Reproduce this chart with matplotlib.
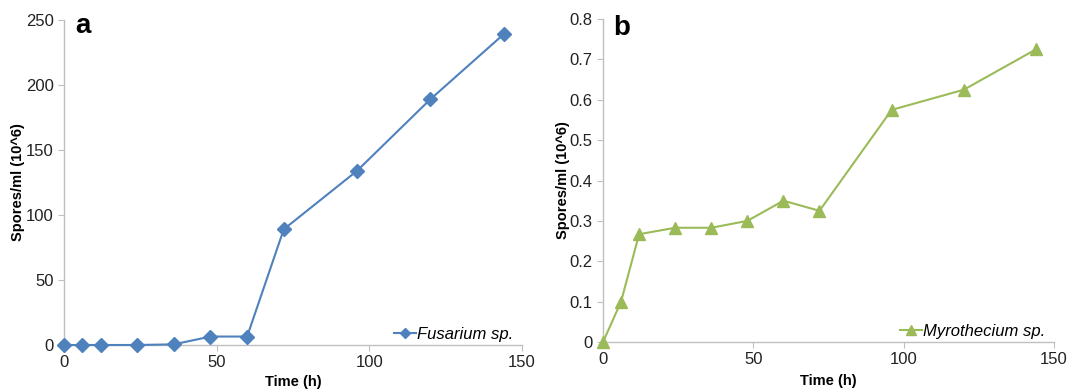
import matplotlib.pyplot as plt

plt.rcParams['font.family'] = ['Liberation Sans', 'DejaVu Sans']

# Sampling times (h)
time_h = [0, 6, 12, 24, 36, 48, 60, 72, 96, 120, 144]

# Spore counts (10^6 spores/ml)
fusarium = [0, 0, 0, 0, 0.5, 6.5, 6.5, 89, 134, 189, 239]
myrothecium = [0, 0.1, 0.267, 0.283, 0.283, 0.3, 0.35, 0.325, 0.575, 0.625, 0.725]

fig = plt.figure(figsize=(10.73, 3.9), dpi=100)
ax_a = fig.add_axes([0.0596, 0.1154, 0.4268, 0.8333])
ax_b = fig.add_axes([0.562, 0.1231, 0.4203, 0.828])

panels = [
    (ax_a, fusarium, '#4F81BD', 'D', 7, 'Fusarium sp.', 'a', (0, 250),
     [0, 50, 100, 150, 200, 250], (0.024, 0.96), (-0.100, -0.114)),
    (ax_b, myrothecium, '#9BBB59', '^', 9, 'Myrothecium sp.', 'b', (0, 0.8),
     [0, 0.1, 0.2, 0.3, 0.4, 0.5, 0.6, 0.7, 0.8], (0.022, 0.95), (-0.089, -0.121)),
]

for ax, vals, color, marker, ms, name, letter, ylim, yticks, letter_pos, label_pos in panels:
    ax.plot(time_h, vals, color=color, marker=marker, markersize=ms, lw=1.5,
            label=name, clip_on=False, zorder=3)
    ax.set_xlim(0, 150)
    ax.set_ylim(*ylim)
    ax.set_xticks([0, 50, 100, 150])
    ax.set_yticks(yticks)
    if isinstance(yticks[1], float):
        ax.set_yticklabels(['0'] + ['{:.1f}'.format(t) for t in yticks[1:]])
    for side in ['top', 'right']:
        ax.spines[side].set_visible(False)
    for side in ['left', 'bottom']:
        ax.spines[side].set_color('#BFBFBF')
        ax.spines[side].set_linewidth(1)
    ax.tick_params(axis='both', direction='out', length=4, color='#BFBFBF',
                   labelsize=12, labelcolor='#222222')
    ax.set_xlabel('Time (h)', fontsize=10.5, fontweight='bold')
    ax.set_ylabel('Spores/ml (10^6)', fontsize=10.5, fontweight='bold')
    ax.yaxis.set_label_coords(label_pos[0], 0.5)
    ax.xaxis.set_label_coords(0.5, label_pos[1])
    ax.xaxis.label.set_va('center')
    ax.yaxis.label.set_va('center')
    ax.text(letter_pos[0], letter_pos[1], letter, transform=ax.transAxes,
            fontsize=20, fontweight='bold', va='baseline', ha='left')
    ax.legend(loc='lower right', bbox_to_anchor=(1.0, -0.015), frameon=False,
              handlelength=1.3, handletextpad=0.1, borderaxespad=0.1,
              markerscale=0.75, prop={'style': 'italic', 'size': 12})

fig.savefig('out.png', dpi=100)
